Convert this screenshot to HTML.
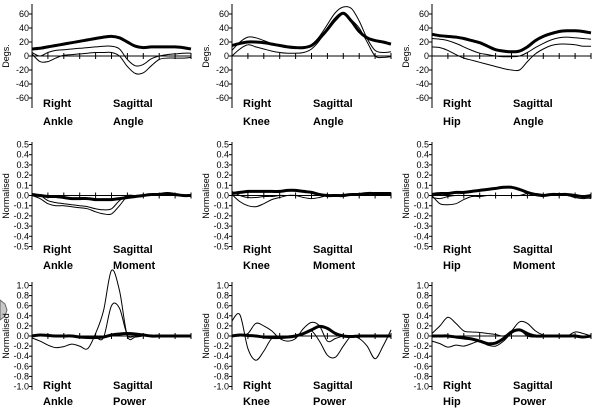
<!DOCTYPE html>
<html><head><meta charset="utf-8"><style>
html,body{margin:0;padding:0;background:#fff;}
svg{display:block;font-family:"Liberation Sans",sans-serif;}
</style></head><body>
<svg id="chart" width="602" height="411" viewBox="0 0 602 411" xmlns="http://www.w3.org/2000/svg">
<polygon points="0,300 5,304 7,310 5,316 0,320" fill="#c8c8c8" stroke="#666" stroke-width="1"/>
</svg>
<script>
// percent of gait cycle
const pct = [0,5,10,15,20,25,30,35,40,45,50,55,60,65,70,75,80,85,90,95,100];
const angTicks = [60,40,20,0,-20,-40,-60];
const angTickLabels = ["60","40","20","0","-20","-40","-60"];
const momTicks = [0.5,0.4,0.3,0.2,0.1,0,-0.1,-0.2,-0.3,-0.4,-0.5];
const momTickLabels = ["0.5","0.4","0.3","0.2","0.1","0.0","-0.1","-0.2","-0.3","-0.4","-0.5"];
const powTicks = [1,0.8,0.6,0.4,0.2,0,-0.2,-0.4,-0.6,-0.8,-1];
const powTickLabels = ["1.0","0.8","0.6","0.4","0.2","0.0","-0.2","-0.4","-0.6","-0.8","-1.0"];

// Ankle angle
const ankleAngMean = [10,11,13,15,17,19,21,23,25,27,28,26,20,14,12,13,13,13,13,12,10];
const ankleAngHi = [5,0,5,8,9,10,11,12,13,14,14,10,-5,-14,-12,-4,0,2,3,4,4];
const ankleAngLo = [3,-8,-8,-3,1,2,3,4,5,5,5,0,-15,-25,-24,-14,-5,-3,-3,-3,-2];
// Knee angle
const kneeAngMean = [15,18,20,20,19,17,15,13,12,12,15,25,38,52,61,50,35,26,22,20,17];
const kneeAngHi = [8,20,27,26,22,18,15,13,12,13,16,28,45,62,70,68,50,25,8,5,6];
const kneeAngLo = [0,10,16,13,10,7,5,4,4,5,10,22,40,55,62,52,40,20,0,-2,-1];
// Hip angle
const hipAngMean = [31,29,28,27,25,22,19,14,9,7,6,7,13,22,28,32,35,36,36,35,33];
const hipAngHi = [25,24,22,18,13,8,4,2,0,-1,-1,0,5,12,18,23,26,27,26,25,24];
const hipAngLo = [13,12,8,2,-3,-6,-9,-12,-15,-18,-20,-20,-8,3,10,15,17,17,16,14,14];
// Ankle moment
const ankleMomMean = [0.01,0,-0.01,-0.01,-0.02,-0.03,-0.03,-0.03,-0.04,-0.04,-0.04,-0.03,-0.02,-0.01,0,0.01,0.01,0.02,0.01,0,0];
const ankleMomHi = [0,0,-0.05,-0.07,-0.08,-0.09,-0.10,-0.11,-0.13,-0.14,-0.13,-0.05,0,0,0,0.01,0.01,0.01,0,0,0];
const ankleMomLo = [0,-0.03,-0.08,-0.1,-0.1,-0.11,-0.12,-0.13,-0.16,-0.18,-0.18,-0.1,-0.01,0,0,0,0.01,0.01,0,0,0];
// Knee moment
const kneeMomMean = [0.02,0.03,0.04,0.04,0.04,0.04,0.04,0.05,0.05,0.04,0.03,0.01,0,0,0,0.01,0.01,0.02,0.02,0.02,0.02];
const kneeMomHi = [0.04,0,-0.02,-0.02,-0.01,-0.01,0,0,0,-0.02,-0.03,-0.02,0,0,0,0.01,0.01,0.01,0.02,0.01,0.01];
const kneeMomLo = [0.01,-0.06,-0.1,-0.11,-0.08,-0.04,-0.02,0,0,0,0,0,0,0,0,0,0,0,0,0,0];
// Hip moment
const hipMomMean = [0.01,0.02,0.02,0.03,0.03,0.04,0.05,0.06,0.07,0.08,0.08,0.06,0.03,0.01,0,0.01,0.01,0.01,0,-0.01,0];
const hipMomHi = [-0.02,-0.03,-0.01,0,0,0,0,0,0,0,0,0,0.02,0.02,0.01,0.01,0,0,-0.02,-0.03,-0.02];
const hipMomLo = [0,-0.08,-0.09,-0.08,-0.04,-0.01,-0.01,0,0,0,0,0,0,0,0,0,0,0,-0.01,-0.02,-0.03];
// Ankle power
const anklePowMean = [0,0.02,0.01,0,0,0,-0.02,-0.03,-0.03,-0.02,0.02,0.04,0.05,0.04,0.02,0,0,0,0,0,0];
const anklePowHi = [-0.04,-0.1,-0.18,-0.23,-0.21,-0.16,-0.2,-0.25,0.05,0.5,1.3,0.9,0,-0.02,0,0,0,0,0,0,0];
const anklePowLo = [0,0,0,0,0,0,0,-0.02,-0.03,-0.03,0.6,0.55,0.02,0,0,0,0,0,0,0,0];
// Knee power
const kneePowMean = [0,0.02,0.01,0,-0.02,-0.03,-0.03,-0.02,0,0.05,0.12,0.19,0.15,0.05,0,-0.01,0,0,0,0,0];
const kneePowA = [0.3,0.42,-0.25,-0.48,-0.3,-0.05,-0.05,-0.03,0,0.05,0.1,-0.1,-0.38,-0.42,-0.2,0,0,0,0,0,0];
const kneePowB = [0,0,0.05,0.25,0.2,0.1,-0.05,-0.1,-0.05,0.15,0.27,0.2,-0.1,-0.05,0,0,-0.05,-0.2,-0.45,-0.2,0.12];
// Hip power
const hipPowMean = [0,0,0,-0.02,-0.04,-0.06,-0.1,-0.15,-0.14,-0.05,0.08,0.12,0.05,0,0,0,0,0,0,-0.02,0];
const hipPowA = [0.05,0.2,0.37,0.25,0.1,0.08,0.07,0.05,0.03,0,0.1,0.28,0.25,0.1,0.02,0,0,0,0.08,0.05,0];
const hipPowB = [-0.1,-0.15,-0.22,-0.18,-0.2,-0.15,-0.1,-0.18,-0.2,-0.1,0.05,0.12,0,-0.02,0,0,0,0,0,0,0];

const svg = document.getElementById('chart');
const NS = 'http://www.w3.org/2000/svg';
function mk(tag, attrs){const e=document.createElementNS(NS,tag);for(const k in attrs)e.setAttribute(k,attrs[k]);return e;}
function smooth(pts){
  let d='M'+pts[0][0].toFixed(1)+','+pts[0][1].toFixed(1);
  for(let i=0;i<pts.length-1;i++){
    const p0=pts[Math.max(0,i-1)],p1=pts[i],p2=pts[i+1],p3=pts[Math.min(pts.length-1,i+2)];
    const c1x=p1[0]+(p2[0]-p0[0])/6,c1y=p1[1]+(p2[1]-p0[1])/6;
    const c2x=p2[0]-(p3[0]-p1[0])/6,c2y=p2[1]-(p3[1]-p1[1])/6;
    d+=' C'+c1x.toFixed(1)+','+c1y.toFixed(1)+' '+c2x.toFixed(1)+','+c2y.toFixed(1)+' '+p2[0].toFixed(1)+','+p2[1].toFixed(1);
  }
  return d;
}

const rows = [
  {zero:56, scale:0.7, top:4, bottom:108, ticks:angTicks, labels:angTickLabels, title:'Degs.', titleY:56, lab1:103, lab2:121},
  {zero:195.5, scale:102, top:142, bottom:250, ticks:momTicks, labels:momTickLabels, title:'Normalised', titleY:196, lab1:249, lab2:265},
  {zero:336, scale:50.5, top:282, bottom:390, ticks:powTicks, labels:powTickLabels, title:'Normalised', titleY:336, lab1:385, lab2:401}
];
const cols = [{x0:32, name:'Ankle'},{x0:232, name:'Knee'},{x0:432, name:'Hip'}];
const rowNames = ['Angle','Moment','Power'];
const data = [
  [[ankleAngMean,ankleAngHi,ankleAngLo],[kneeAngMean,kneeAngHi,kneeAngLo],[hipAngMean,hipAngHi,hipAngLo]],
  [[ankleMomMean,ankleMomHi,ankleMomLo],[kneeMomMean,kneeMomHi,kneeMomLo],[hipMomMean,hipMomHi,hipMomLo]],
  [[anklePowMean,anklePowHi,anklePowLo],[kneePowMean,kneePowA,kneePowB],[hipPowMean,hipPowA,hipPowB]]
];
const W = 159;

rows.forEach((r,ri)=>{
  cols.forEach((c,ci)=>{
    const g = mk('g',{});
    
    
    svg.appendChild(g);
    const xs = p => c.x0 + p/100*W;
    const ys = v => r.zero - v*r.scale;
    const ax = mk('line',{x1:c.x0,y1:r.top,x2:c.x0,y2:r.bottom,stroke:'#000','stroke-width':1});
    
    
    g.appendChild(ax);
    r.ticks.forEach((t,ti)=>{
      const y = ys(t);
      g.appendChild(mk('line',{x1:c.x0-3,y1:y,x2:c.x0,y2:y,stroke:'#000','stroke-width':1}));
      const tx = mk('text',{x:c.x0-3,y:y+3,'font-size':9,'text-anchor':'end',fill:'#000'});
      
      
      tx.textContent = r.labels[ti];
      g.appendChild(tx);
    });
    const tt = mk('text',{x:0,y:0,'font-size':9,'text-anchor':'middle',fill:'#000',transform:'translate('+(c.x0-23)+','+r.titleY+') rotate(-90)'});
    
    
    tt.textContent = r.title;
    g.appendChild(tt);
    const zl = mk('line',{x1:c.x0,y1:r.zero,x2:c.x0+W,y2:r.zero,stroke:'#000','stroke-width':1});
    
    
    g.appendChild(zl);
    for(let p=10;p<=100;p+=10){
      g.appendChild(mk('line',{x1:xs(p),y1:r.zero-3,x2:xs(p),y2:r.zero+3,stroke:'#000','stroke-width':1}));
    }
    data[ri][ci].forEach((s,si)=>{
      const pts = s.map((v,i)=>[xs(pct[i]),ys(v)]);
      const path = mk('path',{d:smooth(pts),fill:'none',stroke:'#000','stroke-width':si===0?3:1,'stroke-linejoin':'round'});
      
      
      g.appendChild(path);
    });
    const labs = [['Right',c.x0+11,r.lab1],[c.name,c.x0+11,r.lab2],['Sagittal',c.x0+81,r.lab1],[rowNames[ri],c.x0+81,r.lab2]];
    labs.forEach(l=>{
      const t = mk('text',{x:l[1],y:l[2]+4,'font-size':11,'font-weight':'bold',fill:'#000'});
      
      
      t.textContent = l[0];
      g.appendChild(t);
    });
  });
});
</script>
</body></html>
